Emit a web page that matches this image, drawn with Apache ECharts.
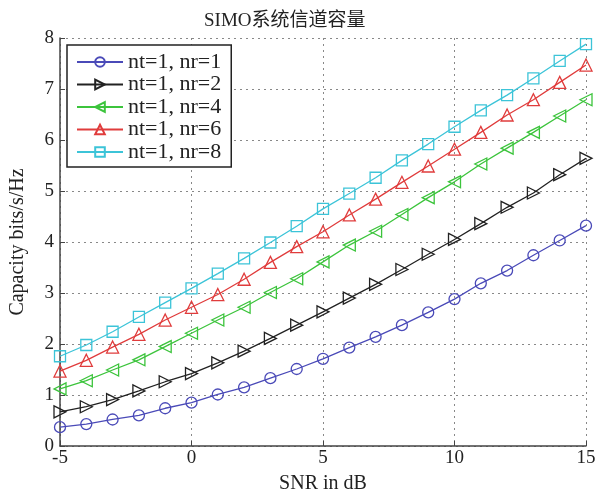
<!DOCTYPE html>
<html>
<head>
<meta charset="utf-8">
<script src="https://cdn.jsdelivr.net/npm/echarts@6/dist/echarts.min.js"></script>
<style>
html,body{margin:0;padding:0;background:#fff;}
#c{width:599px;height:499px;}
</style>
</head>
<body>
<div id="c"></div>
<script>
var snr = [-5,-4,-3,-2,-1,0,1,2,3,4,5,6,7,8,9,10,11,12,13,14,15];
var nr1 = [0.37,0.43,0.52,0.60,0.74,0.85,1.01,1.15,1.33,1.51,1.71,1.93,2.14,2.37,2.62,2.88,3.19,3.44,3.74,4.03,4.32];
var nr2 = [0.67,0.77,0.91,1.08,1.26,1.42,1.63,1.86,2.11,2.37,2.63,2.90,3.17,3.46,3.76,4.05,4.36,4.68,4.96,5.32,5.64];
var nr4 = [1.12,1.28,1.49,1.69,1.95,2.21,2.47,2.72,3.01,3.28,3.61,3.94,4.21,4.54,4.87,5.18,5.53,5.84,6.15,6.47,6.79];
var nr6 = [1.47,1.68,1.94,2.19,2.47,2.72,2.97,3.27,3.60,3.91,4.20,4.53,4.84,5.17,5.49,5.82,6.15,6.49,6.79,7.13,7.47];
var nr8 = [1.76,1.98,2.24,2.53,2.81,3.09,3.38,3.68,3.99,4.31,4.65,4.95,5.26,5.60,5.92,6.26,6.58,6.88,7.21,7.55,7.88];
var names = ['nt=1, nr=1','nt=1, nr=2','nt=1, nr=4','nt=1, nr=6','nt=1, nr=8'];
var colors = ['#4a4ab8','#222222','#3cc43c','#e03c3c','#3cc4d8'];
var symbols = ['circle','path://M0,0 L10,5 L0,10 Z','path://M10,0 L0,5 L10,10 Z','triangle','rect'];
var sizes = [11,12,12,12,11];
var allData = [nr1,nr2,nr4,nr6,nr8];

var serif = '"Liberation Serif","Times New Roman","Noto Sans CJK SC",serif';
var series = allData.map(function(arr,i){
  return {
    name: names[i], type:'line',
    data: snr.map(function(x,j){return [x,arr[j]];}),
    symbol: symbols[i], symbolSize: sizes[i], showAllSymbol: true,
    color: colors[i],
    lineStyle:{color:colors[i], width:1.3},
    itemStyle:{color:'rgba(255,255,255,0)', borderColor:colors[i], borderWidth:1.3},
    animation:false
  };
});

var chart = echarts.init(document.getElementById('c'));
chart.setOption({
  backgroundColor:'#fff',
  animation:false,
  title:{text:'SIMO系统信道容量', left:199, top:7,
    textStyle:{fontFamily:serif, fontWeight:'normal', fontSize:19, color:'#222'}},
  legend:{
    orient:'vertical', left:67, top:45,
    backgroundColor:'#fff', borderColor:'#222', borderWidth:1.5, borderRadius:0,
    padding:[6,10,4,9], itemGap:0.5, itemWidth:46, itemHeight:12,
    textStyle:{fontFamily:serif, fontSize:22, lineHeight:22, color:'#222'},
    data: names
  },
  grid:{left:58, right:13, top:38, bottom:45, containLabel:false},
  xAxis:{
    type:'value', min:-5, max:15, interval:5,
    name:'SNR in dB', nameLocation:'middle', nameGap:28,
    nameTextStyle:{fontFamily:serif, fontSize:20, color:'#222'},
    axisLine:{show:true, onZero:false, lineStyle:{color:'#444', width:1.5}},
    axisTick:{show:true, inside:true, length:5, lineStyle:{color:'#444'}},
    axisLabel:{fontFamily:serif, fontSize:19, color:'#222', margin:3},
    splitLine:{show:true, lineStyle:{type:[2,4], color:'#888', width:1}}
  },
  yAxis:{
    type:'value', min:0, max:8, interval:1,
    name:'Capacity bits/s/Hz', nameLocation:'middle', nameGap:32,
    nameTextStyle:{fontFamily:serif, fontSize:20, color:'#222'},
    axisLine:{show:true, onZero:false, lineStyle:{color:'#444', width:1.5}},
    axisTick:{show:true, inside:true, length:5, lineStyle:{color:'#444'}},
    axisLabel:{fontFamily:serif, fontSize:19, color:'#222', margin:6},
    splitLine:{show:true, lineStyle:{type:[2,4], color:'#888', width:1}}
  },
  series: series
});
</script>
</body>
</html>
